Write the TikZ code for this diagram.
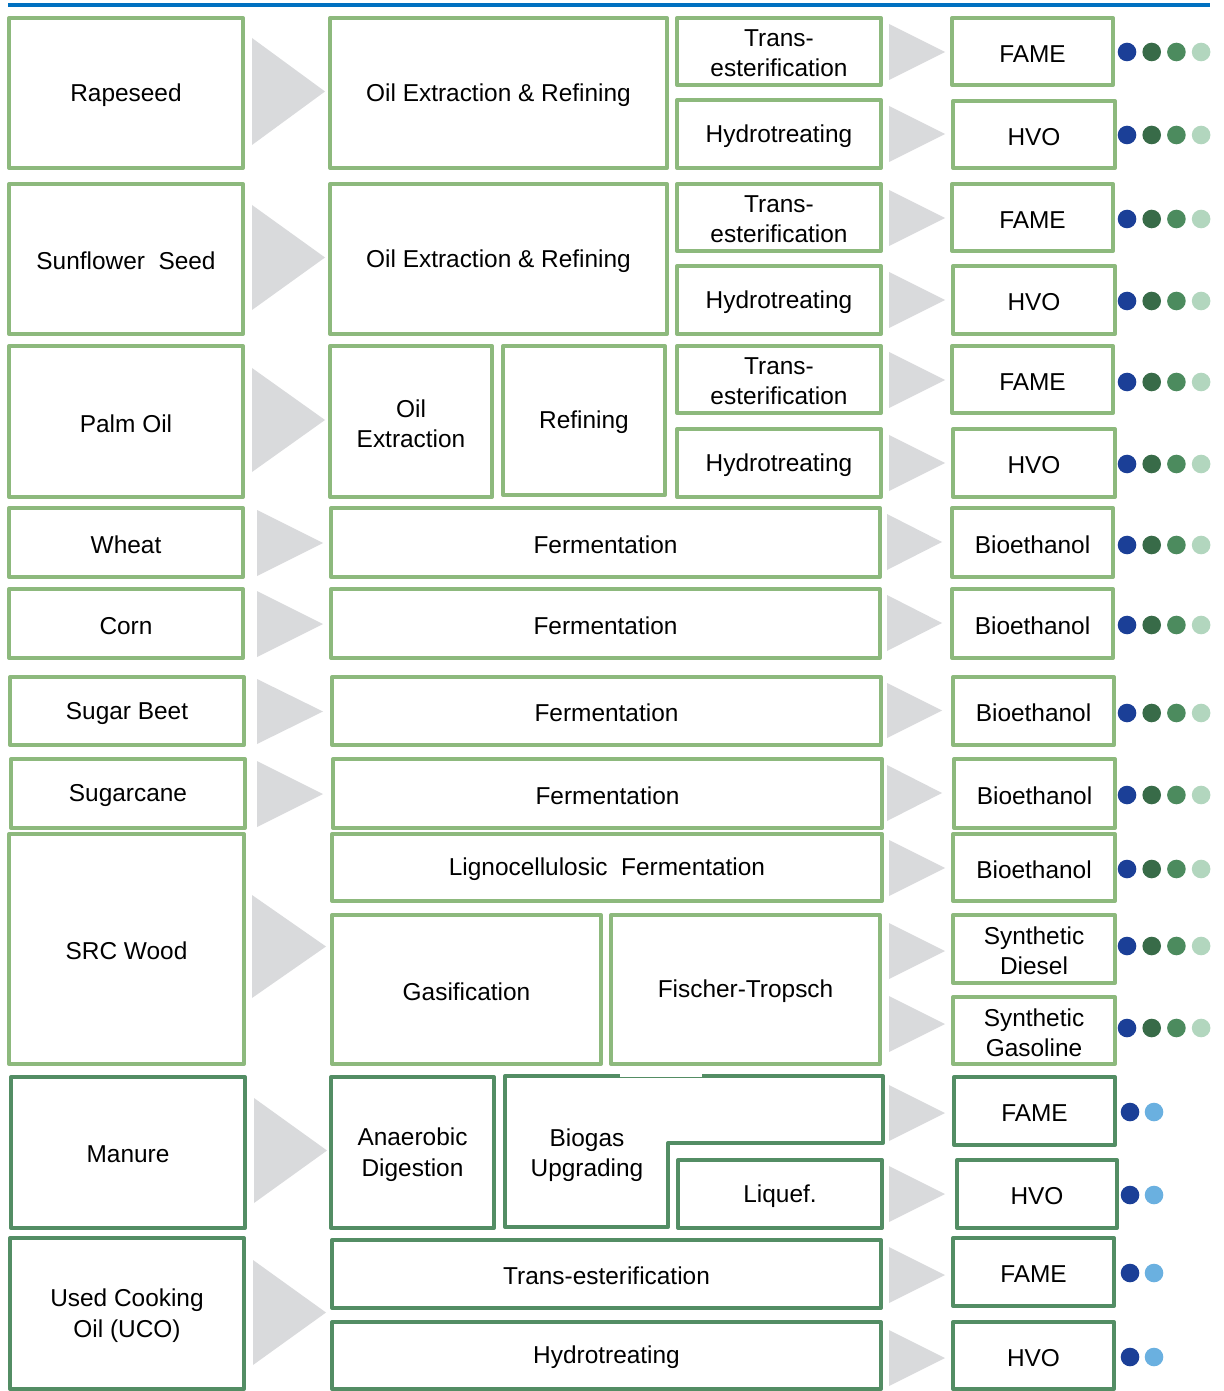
\documentclass[tikz,border=0pt]{standalone}
\usepackage{fontspec}
\setmainfont{Liberation Sans}
\usepackage{xcolor}
\usetikzlibrary{fit, math}
\definecolor{qblue}{RGB}{0,112,192}
\definecolor{qgreen}{RGB}{141,185,125}
\definecolor{qdark}{RGB}{83,141,100}
\definecolor{qgray}{RGB}{217,218,220}
\definecolor{dotA}{RGB}{27,63,151}
\definecolor{dotB}{RGB}{56,107,72}
\definecolor{dotC}{RGB}{76,139,94}
\definecolor{dotD}{RGB}{178,214,190}
\definecolor{dotE}{RGB}{106,176,224}

% box from corner (x1,y1) to corner (x2,y2), pixel units
\newcommand{\procbox}[7][]{\node[box, #1, fit={(#3,#4) (#5,#6)},
  label={[lbl]center:#7}] (#2) {};}
% grey chevron between x1 and x2 (apex), spanning y1..y2
\newcommand{\chev}[4]{\fill[qgray] (#1,#2) -- (#3,{(#2+#4)/2}) -- (#1,#4) -- cycle;}

\begin{document}
\begin{tikzpicture}[x=0.02cm, y=-0.02cm,
  box/.style={draw=qgreen, line width=2.3pt, line join=round, fill=white,
    inner sep=0pt},
  lbl/.style={align=center, inner sep=0pt, yshift=-1.2pt,
    font=\fontsize{13.9}{17.2}\selectfont},
  dark/.style={draw=qdark}]

\tikzmath{
\r = 9.3; %dot radius
}

\useasboundingbox (0,0) rectangle (1223,1391);
\draw[qblue, line width=2.3pt] (8,5) -- (1210,5);

% rapeseed
\procbox{rape}{9}{18}{243}{168}{Rapeseed}
\procbox{rapeoil}{330}{18}{667}{168}{Oil Extraction \& Refining}
\procbox{rapetrans}{677}{18}{881}{85}{Trans-\\esterification}
\procbox{rapehydro}{677}{100}{881}{168}{Hydrotreating}
\procbox{rapefame}{952}{18}{1113}{85}{FAME}
\procbox{rapehvo}{953}{101}{1115}{168}{HVO}

% sunflower
\procbox{sun}{9}{184}{243}{334}{Sunflower\ \ Seed}
\procbox{sunoil}{330}{184}{667}{334}{Oil Extraction \& Refining}
\procbox{suntrans}{677}{184}{881}{251}{Trans-\\esterification}
\procbox{sunhydro}{677}{266}{881}{334}{Hydrotreating}
\procbox{sunfame}{952}{184}{1113}{251}{FAME}
\procbox{sunhvo}{953}{266}{1115}{334}{HVO}

% palm oil
\procbox{palm}{9}{346}{243}{497}{Palm Oil}
\procbox{palmext}{330}{346}{492}{497}{Oil\\Extraction}
\procbox{palmref}{503}{346}{665}{495}{Refining}
\procbox{palmtrans}{677}{346}{881}{413}{Trans-\\esterification}
\procbox{palmhydro}{677}{429}{881}{497}{Hydrotreating}
\procbox{palmfame}{952}{346}{1113}{413}{FAME}
\procbox{palmhvo}{953}{429}{1115}{497}{HVO}

% sugar and starch crops
\foreach \name/\txt/\ya/\yb/\dx in {wheat/Wheat/508/577/0, corn/Corn/589/658/0,
    beet/Sugar Beet/677/745/1, cane/Sugarcane/759/828/2}{
  \procbox{\name}{9+\dx}{\ya}{243+\dx}{\yb}{\txt}
  \procbox{\name ferm}{331+\dx}{\ya}{880+\dx}{\yb}{Fermentation}
  \procbox{\name eth}{952+\dx}{\ya}{1113+\dx}{\yb}{Bioethanol}
  \chev{257}{\ya+2}{323}{\yb-1}
  \chev{887}{\ya+6}{942}{\yb-7}
}

% SRC wood
\procbox{wood}{9}{834}{244}{1064}{SRC Wood}
\procbox{woodferm}{332}{834}{882}{901}{Lignocellulosic\ \ Fermentation}
\procbox{woodgas}{332}{915}{601}{1064}{Gasification}
\procbox{woodft}{611}{915}{880}{1064}{Fischer-Tropsch}
\procbox{woodeth}{953}{834}{1115}{901}{Bioethanol}
\procbox{wooddiesel}{953}{915}{1115}{983}{Synthetic\\Diesel}
\procbox{woodgasoline}{953}{997}{1115}{1064}{Synthetic\\Gasoline}

% manure
\procbox[dark]{manure}{11}{1077}{245}{1228}{Manure}
\procbox[dark]{manad}{331}{1077}{494}{1228}{Anaerobic\\Digestion}
\coordinate (up1) at (505,1076);
\coordinate (up2) at (883,1076);
\coordinate (up3) at (883,1143);
\coordinate (up4) at (668,1143);
\coordinate (up5) at (668,1227);
\coordinate (up6) at (505,1227);
\draw[qdark, line width=2.3pt, line join=round, fill=white]
  (up1) -- (up2) -- (up3) -- (up4) -- (up5) -- (up6) -- cycle;
\fill[white] (620,1073.5) rectangle (702,1077);
\node[lbl] (manup) at (587,1153) {Biogas\\Upgrading};
\procbox[dark]{manliq}{678}{1160}{882}{1228}{Liquef.}
\procbox[dark]{manfame}{954}{1077}{1115}{1145}{FAME}
\procbox[dark]{manhvo}{957}{1160}{1117}{1228}{HVO}

% used cooking oil
\procbox[dark]{uco}{10}{1238}{244}{1389}{Used Cooking\\Oil (UCO)}
\procbox[dark]{ucotrans}{332}{1240}{881}{1308}{Trans-esterification}
\procbox[dark]{ucohydro}{332}{1322}{881}{1389}{Hydrotreating}
\procbox[dark]{ucofame}{953}{1238}{1114}{1306}{FAME}
\procbox[dark]{ucohvo}{953}{1322}{1114}{1389}{HVO}

% chevrons from feedstock
\chev{252}{38}{325}{145}
\chev{252}{205}{325}{310}
\chev{252}{368}{325}{472}
\chev{252}{895}{326}{998}
\chev{254}{1098}{327}{1203}
\chev{253}{1260}{326}{1365}

% chevrons to products
\foreach \ya in {24, 106, 190, 272, 352, 435, 840, 923, 996, 1085, 1166, 1247, 1330}{
  \chev{889}{\ya}{945}{\ya+56}
}

% dots
\foreach \y in {52, 135, 219, 301, 382, 464, 545, 625, 713, 795, 869, 946, 1028}{
  \foreach \c [count=\k from 0] in {dotA, dotB, dotC, dotD}{
    \fill[\c] ({1127+\k*24.7},\y) circle[radius=\r];
  }
}
\foreach \y in {1112, 1195, 1273, 1357}{
  \fill[dotA] (1130,\y) circle[radius=\r];
  \fill[dotE] (1154,\y) circle[radius=\r];
}

\end{tikzpicture}
\end{document}
